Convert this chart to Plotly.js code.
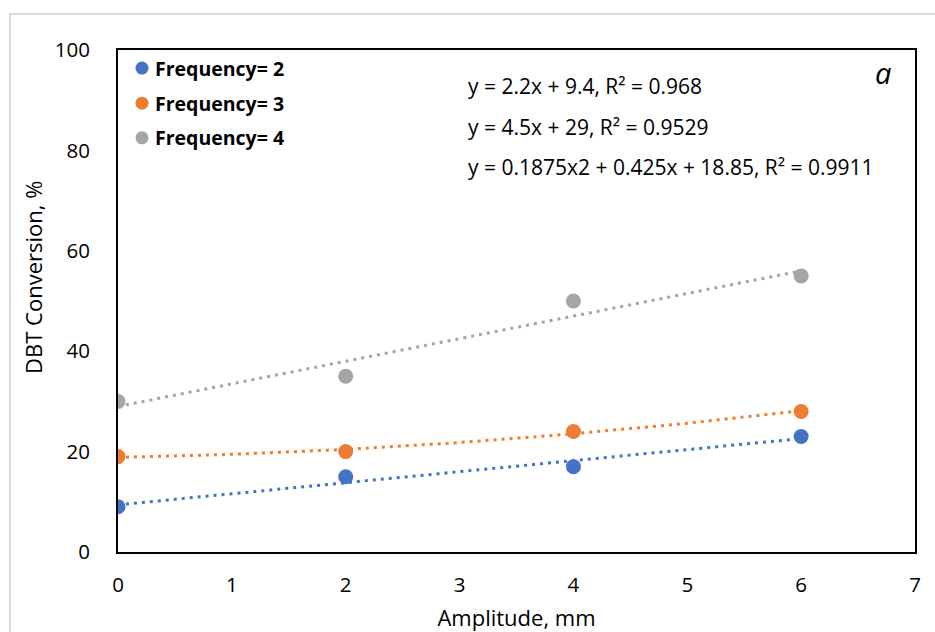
<!DOCTYPE html>
<html>
<head>
<meta charset="utf-8">
<script src="https://cdn.plot.ly/plotly-3.0.1.min.js"></script>
<style>html,body{margin:0;padding:0;background:#fff;}#chart{width:935px;height:632px;}</style>
</head>
<body>
<div id="chart"></div>
<script>
// Data
const amplitude = [0, 2, 4, 6];
const freq2 = [9, 15, 17, 23];
const freq3 = [19, 20, 24, 28];
const freq4 = [30, 35, 50, 55];
const seriesNames = ['Frequency= 2', 'Frequency= 3', 'Frequency= 4'];
const seriesColors = ['#4472C4', '#ED7D31', '#A5A5A5'];
// Trendline coefficients as printed on the chart: [c2, c1, c0]
const trend2 = [0, 2.2, 9.4];
const trend3 = [0.1875, 0.425, 18.85];
const trend4 = [0, 4.5, 29];
const equations = [
  'y = 2.2x + 9.4, R² = 0.968',
  'y = 4.5x + 29, R² = 0.9529',
  'y = 0.1875x2 + 0.425x + 18.85, R² = 0.9911'
];
const xTicks = [0, 1, 2, 3, 4, 5, 6, 7];
const yTicks = [0, 20, 40, 60, 80, 100];

function trendPoints(c) {
  const xs = [], ys = [];
  for (let i = 0; i <= 60; i++) {
    const x = amplitude[0] + (amplitude[amplitude.length - 1] - amplitude[0]) * i / 60;
    xs.push(x); ys.push(c[0] * x * x + c[1] * x + c[2]);
  }
  return {xs, ys};
}

const ys = [freq2, freq3, freq4];
const trends = [trend2, trend3, trend4];
const traces = [];
trends.forEach((c, i) => {
  const t = trendPoints(c);
  traces.push({x: t.xs, y: t.ys, mode: 'lines', showlegend: false, hoverinfo: 'skip',
    line: {color: seriesColors[i], width: 3, dash: '3px,5px'}});
});
ys.forEach((y, i) => {
  traces.push({x: amplitude, y: y, mode: 'markers', name: seriesNames[i], showlegend: false,
    marker: {color: seriesColors[i], size: 15}});
});

const FONT = 'Open Sans, sans-serif';
// custom legend (paper coordinates)
const legY = [0.964, 0.894, 0.825];
const legendShapes = seriesNames.map((n, i) => ({
  type: 'circle', xref: 'paper', yref: 'paper', xsizemode: 'pixel', ysizemode: 'pixel',
  xanchor: 0.0301, yanchor: legY[i], x0: -6.5, x1: 6.5, y0: -6.5, y1: 6.5,
  fillcolor: seriesColors[i], line: {width: 0}
}));
const legendText = seriesNames.map((n, i) => ({
  xref: 'paper', yref: 'paper', x: 0.0435, y: legY[i], xanchor: 'left', yanchor: 'middle',
  showarrow: false, text: '<b>' + n + '</b>', font: {size: 19.5, family: FONT}
}));

const layout = {
  width: 935, height: 632,
  margin: {l: 118, r: 20, t: 50, b: 80},
  paper_bgcolor: '#fff', plot_bgcolor: '#fff',
  font: {family: FONT, color: '#000', size: 20},
  showlegend: false,
  xaxis: {range: [0, 7], tickvals: xTicks, showgrid: false, zeroline: false,
    showline: true, linecolor: '#000', linewidth: 2, mirror: true,
    ticks: 'outside', ticklen: 13, tickcolor: 'rgba(0,0,0,0)',
    tickfont: {size: 20.5, family: FONT},
    title: {text: 'Amplitude, mm', font: {size: 22, family: FONT}, standoff: 16}},
  yaxis: {range: [0, 100], tickvals: yTicks, showgrid: false, zeroline: false,
    showline: true, linecolor: '#000', linewidth: 2, mirror: true,
    ticks: 'outside', ticklen: 22, tickcolor: 'rgba(0,0,0,0)',
    tickfont: {size: 20.5, family: FONT}},
  annotations: equations.map((t, i) => ({
    xref: 'paper', yref: 'paper', x: 0.437, y: [0.928, 0.847, 0.767][i],
    xanchor: 'left', yanchor: 'middle', showarrow: false, text: t,
    font: {size: 21, family: FONT}
  })).concat([
    {xref: 'paper', yref: 'paper', x: 0.973, y: 0.955, xanchor: 'right', yanchor: 'middle',
     showarrow: false, text: '<i>a</i>', font: {size: 29, family: FONT}},
    {xref: 'paper', yref: 'paper', x: -0.1066, y: 0.546, xanchor: 'center', yanchor: 'middle',
     textangle: -90, showarrow: false, text: 'DBT Conversion, %', font: {size: 22, family: FONT}}
  ]).concat(legendText),
  shapes: [{type: 'rect', xref: 'paper', yref: 'paper', x0: -0.1355, x1: 1.1, y0: -0.2, y1: 1.0716,
    line: {color: '#d9d9d9', width: 2}, layer: 'below'}].concat(legendShapes)
};
Plotly.newPlot('chart', traces, layout, {displayModeBar: false, staticPlot: true});
</script>
</body>
</html>
